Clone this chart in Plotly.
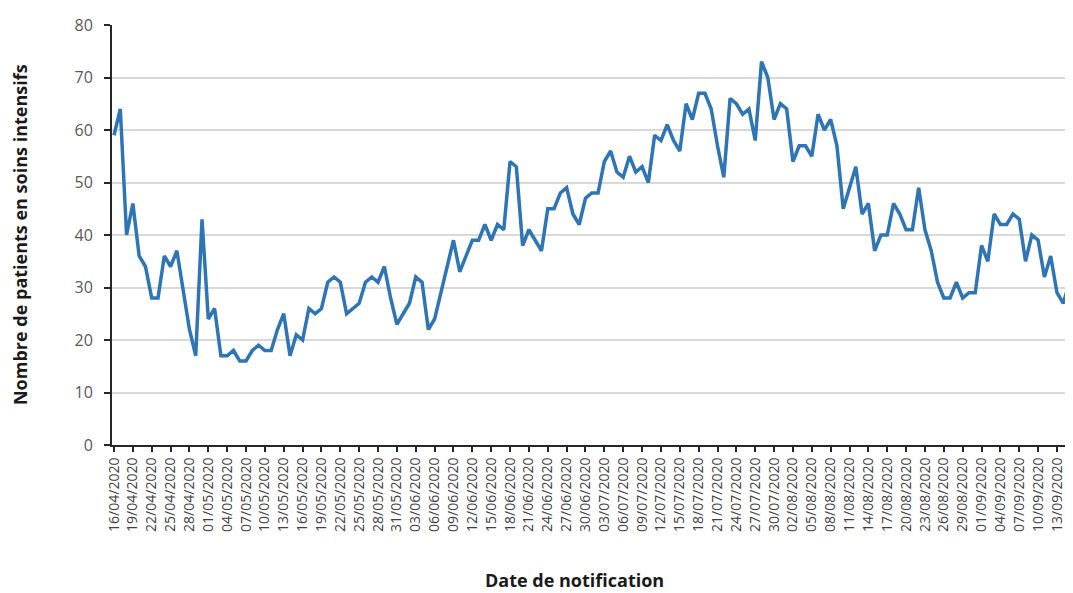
import pandas as pd
import plotly.graph_objects as go

start_date = "2020-04-16"
patients = [
    59, 64, 40, 46, 36, 34, 28, 28, 36, 34,
    37, 30, 22, 17, 43, 24, 26, 17, 17, 18,
    16, 16, 18, 19, 18, 18, 22, 25, 17, 21,
    20, 26, 25, 26, 31, 32, 31, 25, 26, 27,
    31, 32, 31, 34, 28, 23, 25, 27, 32, 31,
    22, 24, 29, 34, 39, 33, 36, 39, 39, 42,
    39, 42, 41, 54, 53, 38, 41, 39, 37, 45,
    45, 48, 49, 44, 42, 47, 48, 48, 54, 56,
    52, 51, 55, 52, 53, 50, 59, 58, 61, 58,
    56, 65, 62, 67, 67, 64, 57, 51, 66, 65,
    63, 64, 58, 73, 70, 62, 65, 64, 54, 57,
    57, 55, 63, 60, 62, 57, 45, 49, 53, 44,
    46, 37, 40, 40, 46, 44, 41, 41, 49, 41,
    37, 31, 28, 28, 31, 28, 29, 29, 38, 35,
    44, 42, 42, 44, 43, 35, 40, 39, 32, 36,
    29, 27, 31, 31,
]
dates = [d.strftime("%d/%m/%Y") for d in pd.date_range(start_date, periods=len(patients), freq="D")]
tick_labels = dates[::3]

x_title = "Date de notification"
y_title = "Nombre de patients en soins intensifs"

fig = go.Figure()
fig.add_trace(go.Scatter(
    x=dates, y=patients, mode="lines",
    line=dict(color="#2E75B6", width=3.5),
    hoverinfo="x+y",
))

fig.update_layout(
    width=1065, height=585,
    margin=dict(l=104, r=0, t=17, b=148),
    plot_bgcolor="white", paper_bgcolor="white",
    showlegend=False,
    font=dict(family="Open Sans, sans-serif"),
)

fig.update_xaxes(
    type="category",
    range=[-0.32, 152.55],
    tickmode="array", tickvals=tick_labels, ticktext=tick_labels,
    tickangle=-90,
    tickfont=dict(size=14, color="#404040"),
    showline=True, linecolor="#262626", linewidth=2,
    ticks="outside", ticklen=5, tickcolor="#262626", tickwidth=1.5,
    showgrid=False, zeroline=False,
)
fig.update_yaxes(
    range=[0, 80], dtick=10,
    tickfont=dict(size=16, color="#595959"),
    showline=True, linecolor="#262626", linewidth=2,
    ticks="outside", ticklen=6, tickcolor="#262626", tickwidth=1.5,
    ticklabelstandoff=8,
    showgrid=True, gridcolor="#D9D9D9", gridwidth=1.5,
    zeroline=False,
)

fig.add_annotation(
    text="<b>" + x_title + "</b>", xref="paper", yref="paper",
    x=0.481, y=-0.322, xanchor="center", yanchor="middle",
    showarrow=False, font=dict(size=18, color="#1a1a1a"),
)
fig.add_annotation(
    text="<b>" + y_title + "</b>", xref="paper", yref="paper",
    x=-0.0957, y=0.5, xanchor="center", yanchor="middle", textangle=-90,
    showarrow=False, font=dict(size=18, color="#1a1a1a"),
)

fig.write_html("out.html")
